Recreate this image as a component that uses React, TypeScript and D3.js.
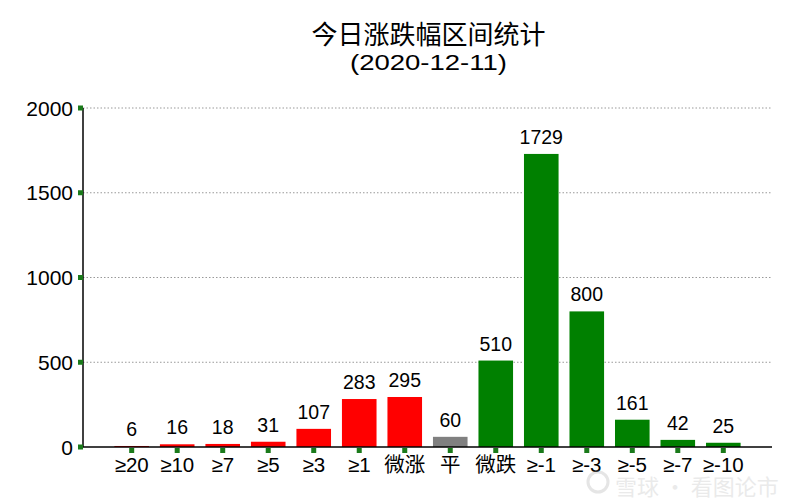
import React from "react";
import * as d3 from "d3";

const categories = ["≥20", "≥10", "≥7", "≥5", "≥3", "≥1", "微涨", "平", "微跌", "≥-1", "≥-3", "≥-5", "≥-7", "≥-10"];
const counts = [6, 16, 18, 31, 107, 283, 295, 60, 510, 1729, 800, 161, 42, 25];
const barColors = ["#ff0000", "#ff0000", "#ff0000", "#ff0000", "#ff0000", "#ff0000", "#ff0000", "#808080", "#008000", "#008000", "#008000", "#008000", "#008000", "#008000"];
const yTicks = [0, 500, 1000, 1500, 2000];
const titleLines = ["今日涨跌幅区间统计", "(2020-12-11)"];

const W = 800, H = 500;
const left = 83, right = 772, top = 108, bottom = 447;
const font = "'Liberation Sans', Arial, 'Noto Sans CJK SC', sans-serif";
const cjkFont = "'Noto Sans CJK SC', sans-serif";

export default function App() {
  const x = d3.scalePoint<string>().domain(categories).range([left, right]).padding(1.07);
  const step = x.step();
  const bw = step * 0.76;
  const y = d3.scaleLinear().domain([0, 2000]).range([bottom, top]);
  const cx = (left + right) / 2 + 1;

  return (
    <svg width={W} height={H} style={{ position: "absolute", left: 0, top: 0, background: "#fff" }}>
      <rect width={W} height={H} fill="#fff" />
      <text x={cx} y={44} textAnchor="middle" fontSize={26} fontFamily={cjkFont} fill="#000">{titleLines[0]}</text>
      <text x={cx} y={69.5} textAnchor="middle" fontSize={22.5} fontFamily={font} fill="#000" textLength={157} lengthAdjust="spacingAndGlyphs">{titleLines[1]}</text>
      {yTicks.filter(v => v > 0).map(v => (
        <line key={v} x1={left} x2={right} y1={y(v)} y2={y(v)} stroke="#999" strokeWidth={1} strokeDasharray="1.5,2" />
      ))}
      {categories.map((c, i) => (
        <rect key={c} x={(x(c) as number) - bw / 2} y={y(counts[i])} width={bw} height={bottom - y(counts[i])} fill={barColors[i]} />
      ))}
      {categories.map((c, i) => (
        <text key={c} x={x(c) as number} y={y(counts[i]) - 10} textAnchor="middle" fontSize={19.5} fontFamily={font} fill="#000">{counts[i]}</text>
      ))}
      <line x1={left} x2={left} y1={top} y2={bottom} stroke="#000" strokeWidth={1.5} />
      <line x1={left} x2={right} y1={bottom} y2={bottom} stroke="#000" strokeWidth={1.5} />
      {yTicks.map(v => (
        <g key={v}>
          <rect x={left - 5} y={y(v) - 2.5} width={5} height={5} fill="#1a7a1a" />
          <text x={left - 10} y={y(v) + 7.5} textAnchor="end" fontSize={21} fontFamily={font} fill="#000">{v}</text>
        </g>
      ))}
      {categories.map(c => (
        <g key={c}>
          <rect x={(x(c) as number) - 2.5} y={bottom + 1} width={5} height={5} fill="#1a7a1a" />
          <text x={x(c) as number} y={bottom + 25} textAnchor="middle" fontSize={20.5} fontFamily={font} fill="#000">{c}</text>
        </g>
      ))}
      <g opacity={0.3}>
        <circle cx={598} cy={482} r={10} fill="none" stroke="#aaa" strokeWidth={3} />
        <text x={615} y={495} fontSize={22} fontFamily={cjkFont} fill="#bbb">雪球 · 看图论市</text>
      </g>
    </svg>
  );
}
